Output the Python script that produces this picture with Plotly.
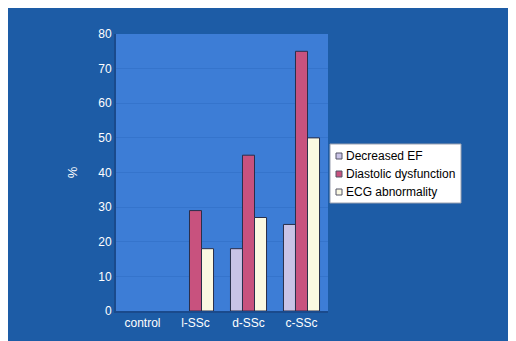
import plotly.graph_objects as go

categories = ["control", "l-SSc", "d-SSc", "c-SSc"]
series_names = ["Decreased EF", "Diastolic dysfunction", "ECG abnormality"]
decreased_ef = [0, 0, 18, 25]
diastolic = [0, 29, 45, 75]
ecg = [0, 18, 27, 50]
y_ticks = [0, 10, 20, 30, 40, 50, 60, 70, 80]
colors = ["#c9c3e6", "#c8527e", "#fbf9e2"]

# page body has an 8px margin (white), the figure fills the rest
OFF = 8
W, H = 505, 333
L, R, T, B = 108, 185, 26, 30
pw, ph = W - L - R, H - T - B
FONT = "Liberation Sans, Arial, sans-serif"

def px(xs):
    return (xs - OFF - L) / pw

def py(ys):
    return (H - B - (ys - OFF)) / ph

fig = go.Figure()
for name, vals, col in zip(series_names, [decreased_ef, diastolic, ecg], colors):
    fig.add_bar(x=categories, y=vals, name=name, showlegend=False,
                marker=dict(color=col,
                            line=dict(color="#2a2f4a",
                                      width=[0 if v == 0 else 1 for v in vals])))

shapes = [
    dict(type="rect", xref="paper", yref="paper", x0=px(330), x1=px(461),
         y0=py(203), y1=py(144), fillcolor="white", line=dict(color="#9aa0b0", width=1),
         layer="above"),
]
annotations = []
row_y = [156, 174, 192]
for name, col, ry in zip(series_names, colors, row_y):
    shapes.append(dict(type="rect", xref="paper", yref="paper",
                       x0=px(336), x1=px(342), y0=py(ry + 3), y1=py(ry - 3),
                       fillcolor=col, line=dict(color="#555566", width=1), layer="above"))
    annotations.append(dict(xref="paper", yref="paper", x=px(344), y=py(ry),
                            xanchor="left", yanchor="middle", showarrow=False,
                            text=name, font=dict(color="black", size=12, family=FONT)))

fig.update_layout(
    width=W, height=H,
    margin=dict(l=L, r=R, t=T, b=B, autoexpand=False),
    barmode="group", bargap=0.32, bargroupgap=0,
    paper_bgcolor="#1d5ca6",
    plot_bgcolor="#3d7dd6",
    font=dict(family=FONT, color="white", size=12),
    showlegend=False,
    shapes=shapes,
    annotations=annotations,
)
fig.update_xaxes(showgrid=False, showline=True, linecolor="#1a4a8c", linewidth=2,
                 ticks="", automargin=False, tickfont=dict(color="white", size=12))
fig.update_yaxes(range=[0, 80], tickvals=y_ticks, showgrid=True,
                 gridcolor="#3574cc", gridwidth=1, zeroline=False,
                 showline=True, linecolor="#1a4a8c", linewidth=2, automargin=False,
                 ticks="", ticklen=0, tickfont=dict(color="white", size=12),
                 title=dict(text="%", font=dict(color="white", size=13), standoff=18))

fig.write_html("out.html")
